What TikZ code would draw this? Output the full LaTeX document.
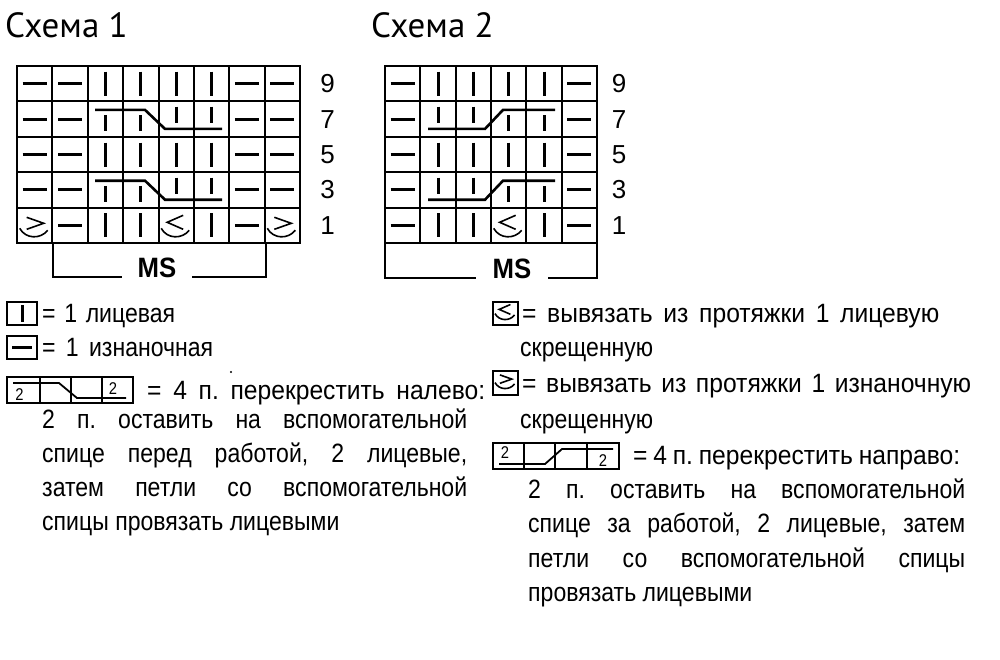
\documentclass[tikz,border=0pt]{standalone}
\usepackage{fontspec}
\setmainfont{Liberation Sans}
\newfontfamily\titlefont{PT Sans}
\newfontfamily\condfont[FakeStretch=0.87]{Liberation Sans}
\newfontfamily\wcondfont[FakeStretch=0.93]{Liberation Sans}
\newfontfamily\msfont[FakeStretch=0.92]{Liberation Sans Bold}
\frenchspacing
\newcommand\Ca[3]{\pic at ({17+(#1-0.5)*35.375},{66+(#2-0.5)*35.4}) {#3};}
\newcommand\Cb[3]{\pic at ({385+(#1-0.5)*35.333},{66+(#2-0.5)*35.4}) {#3};}
\newcommand\J[2]{\frenchspacing\makebox[#1pt][s]{#2}}
\newcommand\JW[2]{\wcondfont\fontsize{26.5}{26.5}\selectfont\frenchspacing\makebox[#1pt][s]{#2}}
\begin{document}
\begin{tikzpicture}[x=1pt,y=-1pt,
  gridl/.style={line width=2pt},
  sym/.style={line width=3pt},
  lsym/.style={line width=1.6pt},
  boxl/.style={line width=1.6pt},
  cab/.style={line width=2.6pt,line join=miter},
  num/.style={font=\fontsize{26}{26}\selectfont,inner sep=0pt},
  lg/.style={font=\condfont\fontsize{26.5}{26.5}\selectfont,anchor=base west,inner sep=0pt},
  twodig/.style={font=\condfont\fontsize{17}{17}\selectfont,anchor=base,inner sep=0pt},
  msl/.style={font=\msfont\fontsize{28}{28}\selectfont,anchor=base,inner sep=0pt},
  ttl/.style={font=\titlefont\fontsize{35}{35}\selectfont,anchor=base west,inner sep=0pt},
  pics/knitst/.style={code={\draw[sym] (0,-12) -- (0,12);}},
  pics/purlst/.style={code={\draw[sym] (-12,0) -- (12,0);}},
  pics/lesst/.style={code={
    \draw[lsym,line join=miter] (7,-10) -- (-9,-3) -- (7,4);
    \draw[lsym] (-15,3) .. controls (-9,14) and (6,14) .. (13,5);}},
  pics/grst/.style={code={
    \draw[lsym,line join=miter] (-8,-8) -- (9,-2) -- (-8,4);
    \draw[lsym] (-15,3) .. controls (-9,14) and (6,14) .. (13,5);}},
]
\useasboundingbox (0,0) rectangle (1000,659);

% titles
\node[ttl] (t1) at (5,37) {Схема 1};
\node[ttl] (t2) at (371,37) {Схема 2};

% ---------- chart 1 ----------
\draw[gridl] (17,66) rectangle (300,243);
\foreach \i in {1,...,7} \draw[gridl] ({17+\i*35.375},66) -- ++(0,177);
\foreach \j in {1,...,4} \draw[gridl] (17,{66+\j*35.4}) -- (300,{66+\j*35.4});
\foreach \r in {1,3} {
  \foreach \c in {1,2,7,8} {\Ca{\c}{\r}{purlst}}
  \foreach \c in {3,...,6} {\Ca{\c}{\r}{knitst}}
}
\foreach \r in {2,4} {
  \foreach \c in {1,2,7,8} {\Ca{\c}{\r}{purlst}}
  \pgfmathsetmacro\T{66+(\r-1)*35.4}
  \draw[cab] (95,{\T+8.5}) -- (145,{\T+8.5}) -- (165,{\T+27.5}) -- (222,{\T+27.5});
  \foreach \x in {105.4,140.8} \draw[sym] (\x,{\T+13.6}) -- (\x,{\T+29.6});
  \foreach \x in {176.2,211.6} \draw[sym] (\x,{\T+5.3}) -- (\x,{\T+22});
}
\Ca{1}{5}{grst} \Ca{2}{5}{purlst} \Ca{3}{5}{knitst} \Ca{4}{5}{knitst}
\Ca{5}{5}{lesst} \Ca{6}{5}{knitst} \Ca{7}{5}{purlst} \Ca{8}{5}{grst}
\foreach \n [count=\k] in {9,7,5,3,1}
  \node[num] (na\n) at (327.5,{66+(\k-0.5)*35.4}) {\n};
\node[msl] (ms1) at (157,277) {MS};
\draw[gridl] (53,243) -- (53,277) -- (122,277);
\draw[gridl] (192,277) -- (266,277) -- (266,243);

% ---------- chart 2 ----------
\draw[gridl] (385,66) rectangle (597,243);
\foreach \i in {1,...,5} \draw[gridl] ({385+\i*35.333},66) -- ++(0,177);
\foreach \j in {1,...,4} \draw[gridl] (385,{66+\j*35.4}) -- (597,{66+\j*35.4});
\foreach \r in {1,3} {
  \foreach \c in {1,6} {\Cb{\c}{\r}{purlst}}
  \foreach \c in {2,...,5} {\Cb{\c}{\r}{knitst}}
}
\foreach \r in {2,4} {
  \foreach \c in {1,6} {\Cb{\c}{\r}{purlst}}
  \pgfmathsetmacro\T{66+(\r-1)*35.4}
  \draw[cab] (428,{\T+27.5}) -- (485,{\T+27.5}) -- (503,{\T+8.5}) -- (555,{\T+8.5});
  \foreach \x in {438,473.3} \draw[sym] (\x,{\T+5.3}) -- (\x,{\T+22});
  \foreach \x in {508.7,544} \draw[sym] (\x,{\T+13.6}) -- (\x,{\T+29.6});
}
\Cb{1}{5}{purlst} \Cb{2}{5}{knitst} \Cb{3}{5}{knitst}
\Cb{4}{5}{lesst} \Cb{5}{5}{knitst} \Cb{6}{5}{purlst}
\foreach \n [count=\k] in {9,7,5,3,1}
  \node[num] (nb\n) at (619,{66+(\k-0.5)*35.4}) {\n};
\node[msl] (ms2) at (512,278) {MS};
\draw[gridl] (385,243) -- (385,278) -- (476,278);
\draw[gridl] (548,278) -- (597,278) -- (597,243);

% ---------- legend left ----------
\draw[boxl] (7,302) rectangle (37,325);
\draw[sym] (22,305) -- (22,322);
\node[lg] (l1) at (42,322) {\J{133}{= 1 лицевая}};
\draw[boxl] (7,336) rectangle (37,359);
\draw[sym] (12,347.5) -- (32,347.5);
\node[lg] (l2) at (42,356) {\J{171}{= 1 изнаночная}};
\fill (231,372) circle (1.1);
\draw[boxl] (7,377) rectangle (133,403);
\foreach \x in {40,71,102} \draw[boxl] (\x,377) -- (\x,403);
\draw[line width=1.8pt,line join=miter] (13,383) -- (59,383) -- (77,398) -- (126,398);
\node[twodig] (d1) at (19.5,400) {2};
\node[twodig] (d2) at (113,394) {2};
\node[lg] (l3) at (147,399) {\JW{338}{= 4 п. перекрестить налево:}};
\node[lg] (l4) at (42,428) {\J{425}{2 п. оставить на вспомогательной}};
\node[lg] (l5) at (42,462) {\J{425}{спице перед работой, 2 лицевые,}};
\node[lg] (l6) at (42,496) {\J{425}{затем петли со вспомогательной}};
\node[lg] (l7) at (42,530) {спицы провязать лицевыми};

% ---------- legend right ----------
\draw[boxl] (493,302) rectangle (518,325);
\pic[scale=0.7] at (505.5,311.5) {lesst};
\node[lg] (r1) at (522,322) {\JW{417}{= вывязать из протяжки 1 лицевую}};
\node[lg] (r2) at (520,356) {скрещенную};
\draw[boxl] (493,371) rectangle (518,395);
\pic[scale=0.7] at (505.5,380.5) {grst};
\node[lg] (r3) at (522,392) {\JW{449}{= вывязать из протяжки 1 изнаночную}};
\node[lg] (r4) at (520,428) {скрещенную};
\draw[boxl] (493,443) rectangle (619,469);
\foreach \x in {524,555,587} \draw[boxl] (\x,443) -- (\x,469);
\draw[line width=1.8pt,line join=miter] (499,464) -- (545,464) -- (562,449) -- (613,449);
\node[twodig] (d3) at (505,458) {2};
\node[twodig] (d4) at (603,466) {2};
\node[lg] (r5) at (633,464) {\JW{327}{= 4 п. перекрестить направо:}};
\node[lg] (r6) at (528,498) {\J{437}{2 п. оставить на вспомогательной}};
\node[lg] (r7) at (528,532) {\J{437}{спице за работой, 2 лицевые, затем}};
\node[lg] (r8) at (528,567) {\J{437}{петли со вспомогательной спицы}};
\node[lg] (r9) at (528,601) {провязать лицевыми};
\end{tikzpicture}
\end{document}
